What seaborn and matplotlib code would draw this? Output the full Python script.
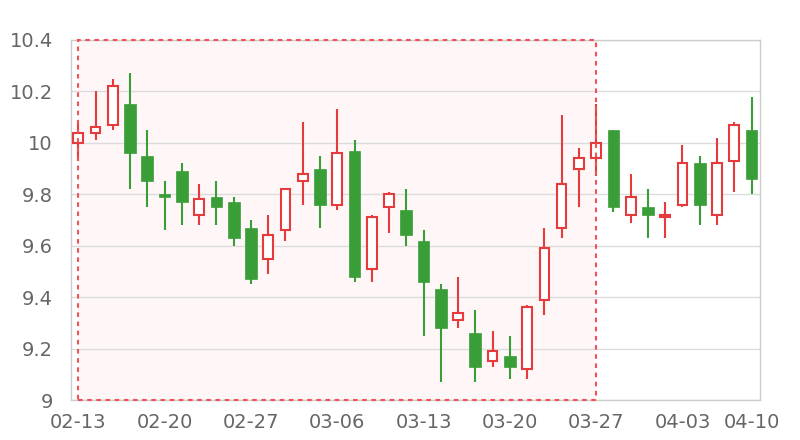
import matplotlib

matplotlib.use("Agg")
import matplotlib.pyplot as plt
import pandas as pd
import seaborn as sns
from matplotlib.patches import Rectangle

dates = [
    "02-13", "02-14", "02-15", "02-16", "02-17",
    "02-20", "02-21", "02-22", "02-23", "02-24",
    "02-27", "02-28", "03-01", "03-02", "03-03",
    "03-06", "03-07", "03-08", "03-09", "03-10",
    "03-13", "03-14", "03-15", "03-16", "03-17",
    "03-20", "03-21", "03-22", "03-23", "03-24",
    "03-27", "03-28", "03-29", "03-30", "03-31",
    "04-03", "04-04", "04-06", "04-07", "04-10",
]
open_ = [
    10.00, 10.04, 10.07, 10.15, 9.95, 9.80, 9.89, 9.72, 9.79, 9.77,
    9.67, 9.55, 9.66, 9.85, 9.90, 9.76, 9.97, 9.51, 9.75, 9.74,
    9.62, 9.43, 9.31, 9.26, 9.15, 9.17, 9.12, 9.39, 9.67, 9.90,
    9.94, 10.05, 9.72, 9.75, 9.71, 9.76, 9.92, 9.72, 9.93, 10.05,
]
close = [
    10.04, 10.06, 10.22, 9.96, 9.85, 9.79, 9.77, 9.78, 9.75, 9.63,
    9.47, 9.64, 9.82, 9.88, 9.76, 9.96, 9.48, 9.71, 9.80, 9.64,
    9.46, 9.28, 9.34, 9.13, 9.19, 9.13, 9.36, 9.59, 9.84, 9.94,
    10.00, 9.75, 9.79, 9.72, 9.72, 9.92, 9.76, 9.92, 10.07, 9.86,
]
low = [
    9.93, 10.01, 10.05, 9.82, 9.75, 9.66, 9.68, 9.68, 9.68, 9.60,
    9.45, 9.49, 9.62, 9.76, 9.67, 9.74, 9.46, 9.46, 9.65, 9.60,
    9.25, 9.07, 9.28, 9.07, 9.13, 9.08, 9.08, 9.33, 9.63, 9.75,
    9.87, 9.73, 9.69, 9.63, 9.63, 9.75, 9.68, 9.68, 9.81, 9.80,
]
high = [
    10.08, 10.20, 10.25, 10.27, 10.05, 9.85, 9.92, 9.84, 9.85, 9.79,
    9.70, 9.72, 9.82, 10.08, 9.95, 10.13, 10.01, 9.72, 9.81, 9.82,
    9.66, 9.45, 9.48, 9.35, 9.27, 9.25, 9.37, 9.67, 10.11, 9.98,
    10.15, 10.05, 9.88, 9.82, 9.77, 9.99, 9.95, 10.02, 10.08, 10.18,
]
shade_range = ("02-13", "03-27")
tick_dates = ["02-13", "02-20", "02-27", "03-06", "03-13", "03-20", "03-27", "04-03", "04-10"]

UP = "#e63a3c"
DOWN = "#3a9e38"


def main() -> None:
    sns.set_theme(style="white")
    plt.rcParams["font.family"] = ["DejaVu Sans"]

    df = pd.DataFrame({"date": dates, "open": open_, "close": close, "low": low, "high": high})
    df["x"] = range(len(df))
    df["up"] = df["close"] >= df["open"]

    fig = plt.figure(figsize=(8, 4.4), dpi=100)
    ax = fig.add_axes([0.0884, 0.0909, 0.862, 0.8182])

    ymin, ymax = 9.0, 10.4
    x0 = dates.index(shade_range[0])
    x1 = dates.index(shade_range[1])
    ax.add_patch(Rectangle((x0, ymin), x1 - x0, ymax - ymin, facecolor="#fff7f7",
                           edgecolor="none", zorder=0.3))
    ax.add_patch(Rectangle((x0, ymin), x1 - x0, ymax - ymin, facecolor="none",
                           edgecolor="#ef5257", linestyle=(0, (2.2, 2.2)), linewidth=1.5,
                           zorder=4, clip_on=False))

    for up, sub in df.groupby("up"):
        color = UP if up else DOWN
        ax.vlines(sub["x"], sub["low"], sub["high"], color=color, linewidth=1.5, zorder=2)
        bottom = sub[["open", "close"]].min(axis=1)
        height = (sub["close"] - sub["open"]).abs()
        if up:
            ax.bar(sub["x"], height, bottom=bottom, width=0.56, facecolor="white",
                   edgecolor=color, linewidth=1.5, zorder=3)
        else:
            ax.bar(sub["x"], height, bottom=bottom, width=0.68, facecolor=color,
                   edgecolor=color, linewidth=0.5, zorder=3)

    ax.set_xlim(-0.44, 39.51)
    ax.set_ylim(ymin, ymax)
    ax.set_yticks([9.0, 9.2, 9.4, 9.6, 9.8, 10.0, 10.2, 10.4])
    ax.set_yticklabels(["9", "9.2", "9.4", "9.6", "9.8", "10", "10.2", "10.4"])
    ax.set_xticks([dates.index(d) for d in tick_dates])
    ax.set_xticklabels(tick_dates)

    ax.set_axisbelow(True)
    ax.grid(axis="y", color="#dcdcdc", linewidth=1)
    ax.grid(axis="x", visible=False)
    for s in ax.spines.values():
        s.set_color("#cccccc")
        s.set_linewidth(1)
    ax.tick_params(axis="both", length=0, labelsize=14, colors="#666666")
    ax.tick_params(axis="y", pad=13)
    ax.tick_params(axis="x", pad=9)

    fig.savefig("out.png", dpi=100)
    plt.close(fig)


if __name__ == "__main__":
    main()
